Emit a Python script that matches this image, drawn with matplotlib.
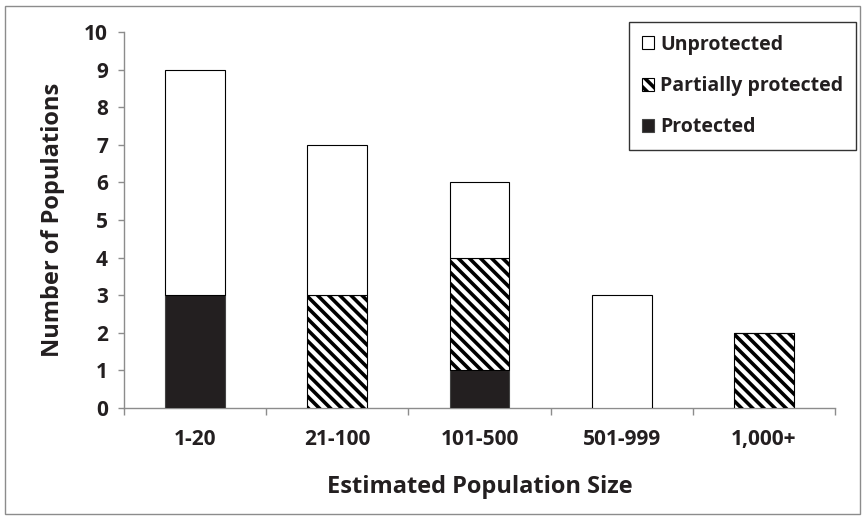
import matplotlib
matplotlib.use("Agg")
import matplotlib.pyplot as plt
from matplotlib.patches import Rectangle
import numpy as np

categories = ["1-20", "21-100", "101-500", "501-999", "1,000+"]
protected = [3, 0, 1, 0, 0]
partially_protected = [0, 3, 3, 0, 2]
unprotected = [6, 4, 2, 3, 0]
y_ticks = list(range(0, 11))

plt.rcParams["font.family"] = ["Open Sans", "DejaVu Sans"]
plt.rcParams["font.weight"] = "bold"
plt.rcParams["hatch.linewidth"] = 2.6
plt.rcParams["hatch.color"] = "black"

TEXT = "#231f20"
AXIS = "#8c8c8c"

fig = plt.figure(figsize=(8.66, 5.19), dpi=100)
ax = fig.add_axes([124 / 866, 1 - 408 / 519, (835 - 124) / 866, (408 - 32) / 519])

x = np.arange(len(categories))
w = 0.42
prot = np.array(protected)
part = np.array(partially_protected)
unp = np.array(unprotected)

b_prot = ax.bar(x, prot, w, color="#231f20", edgecolor="#444444", linewidth=0.8,
                label="Protected", zorder=3)
b_part = ax.bar(x, part, w, bottom=prot, color="white", edgecolor="black",
                hatch="\\\\\\", linewidth=0.8, label="Partially protected", zorder=3)
b_unp = ax.bar(x, unp, w, bottom=prot + part, color="white", edgecolor="black",
               linewidth=0.8, label="Unprotected", zorder=3)

ax.set_xlim(-0.5, len(categories) - 0.5)
ax.set_ylim(0, 10)
ax.set_yticks(y_ticks)
ax.set_yticklabels([str(t) for t in y_ticks], fontsize=15, fontweight="bold", color=TEXT)

ax.set_xticks(x)
ax.set_xticklabels(categories, fontsize=15, fontweight="bold", color=TEXT)
ax.set_xticks(np.arange(-0.5, len(categories)), minor=True)
ax.tick_params(axis="x", which="major", length=0, pad=15)
ax.tick_params(axis="x", which="minor", length=5, color=AXIS, width=1)
ax.tick_params(axis="y", length=4.5, color=AXIS, width=1, pad=7)

for s in ["top", "right"]:
    ax.spines[s].set_visible(False)
for s in ["left", "bottom"]:
    ax.spines[s].set_color(AXIS)
    ax.spines[s].set_linewidth(1)

ax.set_xlabel("Estimated Population Size", fontsize=17, fontweight="bold",
              color=TEXT, labelpad=18)
ax.set_ylabel("Number of Populations", fontsize=17, fontweight="bold",
              color=TEXT, labelpad=14)

leg = ax.legend(handles=[b_unp, b_part, b_prot],
                labels=["Unprotected", "Partially protected", "Protected"],
                loc="upper right", bbox_to_anchor=(856 / 866, 1 - 22 / 519),
                bbox_transform=fig.transFigure, borderaxespad=0, fancybox=False,
                frameon=True, prop={"weight": "bold", "size": 14},
                handlelength=0.65, handleheight=0.65, handletextpad=0.3,
                labelspacing=1.1, borderpad=0.65)
leg.get_frame().set_edgecolor("black")
leg.get_frame().set_linewidth(1)
for t in leg.get_texts():
    t.set_color(TEXT)

fig.patches.append(Rectangle((5 / 866, 5 / 519), 855 / 866, 508 / 519,
                             transform=fig.transFigure, fill=False,
                             edgecolor=AXIS, linewidth=1))

fig.savefig("out.png", dpi=100)
